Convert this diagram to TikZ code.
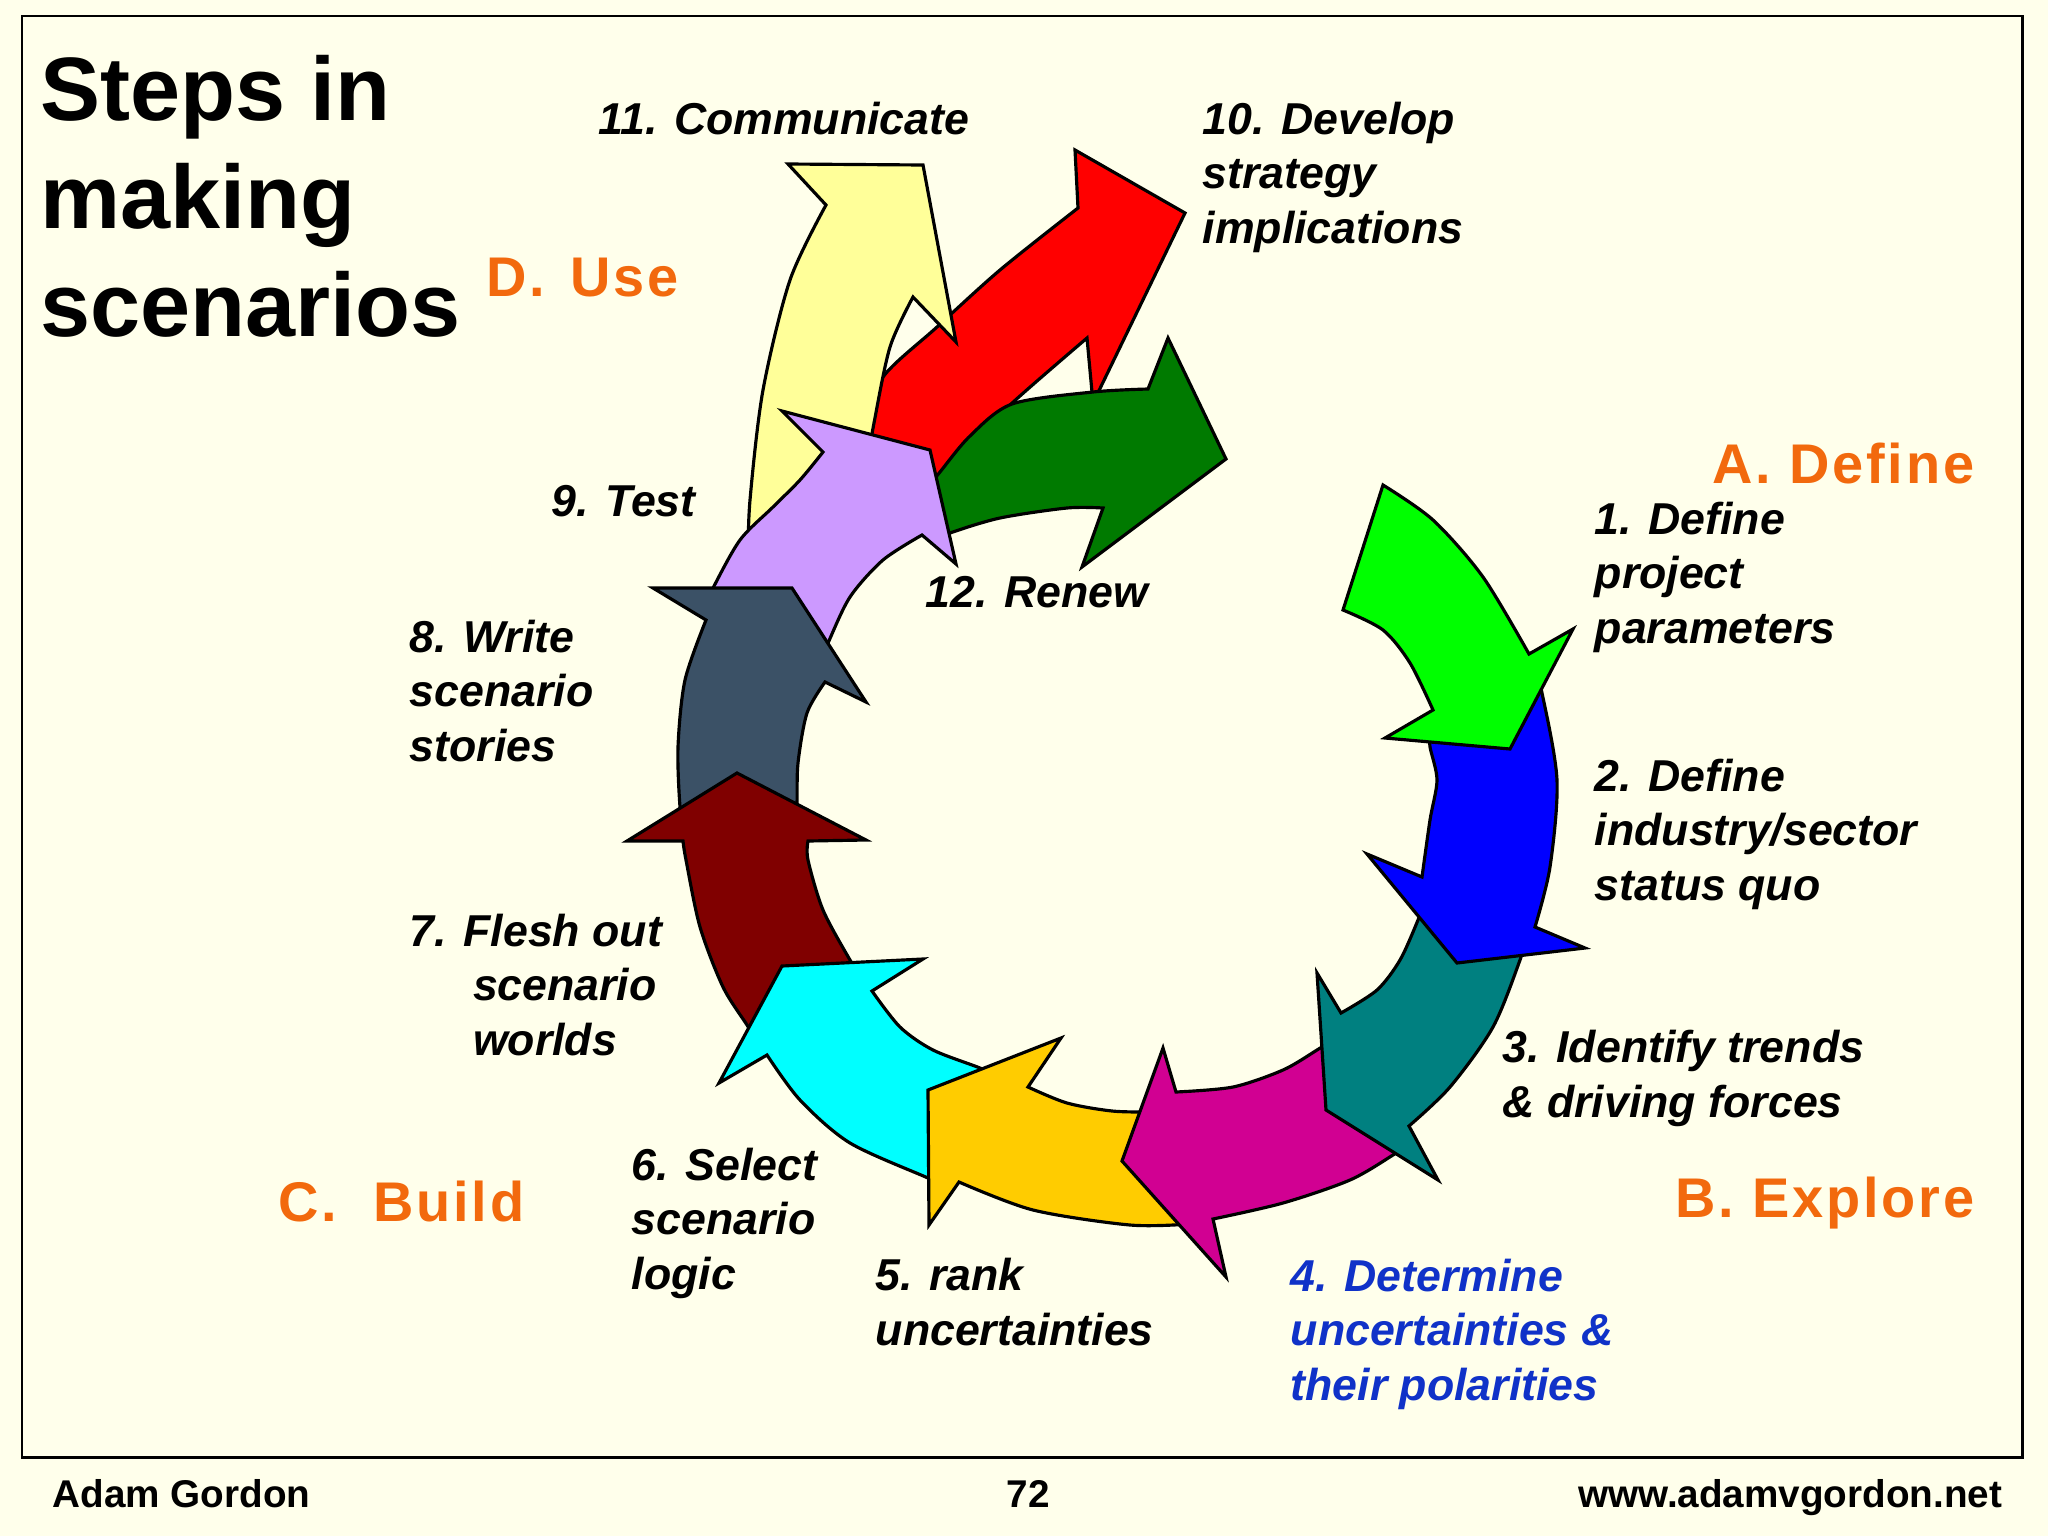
\documentclass[tikz,border=0pt]{standalone}
\usepackage{fontspec}
\setmainfont{Liberation Sans}
\newfontfamily\phasefont[LetterSpace=5]{Liberation Sans}
\usepackage{tikz}
\definecolor{bgcream}{HTML}{FFFFEB}
\definecolor{phaseorange}{HTML}{F2690D}
\definecolor{stepblue}{HTML}{1032C8}
\definecolor{greendefine}{HTML}{00FF00}
\definecolor{bluesector}{HTML}{0000FF}
\definecolor{tealtrend}{HTML}{008080}
\definecolor{magentadet}{HTML}{D10092}
\definecolor{orangerank}{HTML}{FFCC00}
\definecolor{cyanselect}{HTML}{00FFFF}
\definecolor{maroonflesh}{HTML}{800000}
\definecolor{slatewrite}{HTML}{3B5166}
\definecolor{purpletest}{HTML}{CC99FF}
\definecolor{redten}{HTML}{FF0000}
\definecolor{yellowcomm}{HTML}{FFFF99}
\definecolor{greenrenew}{HTML}{007A00}
\newcommand{\steplabelfont}{\fontsize{12.7}{15.4}\selectfont\bfseries\itshape}
\newcommand{\phaselabelfont}{\phasefont\fontsize{15.9}{19}\selectfont\bfseries}
\tikzset{
  arrowpart/.style={draw=black, line width=0.9pt, line join=miter},
  steplabel/.style={anchor=base west, inner sep=0pt, align=left, font=\steplabelfont},
  phaselabel/.style={inner sep=0pt, text=phaseorange, font=\phaselabelfont},
  footlabel/.style={anchor=base, inner sep=0pt, font=\fontsize{11}{13}\selectfont\bfseries}
}

\begin{document}
\begin{tikzpicture}[x=0.01cm, y=-0.01cm]
      % page
      \useasboundingbox (0,0) rectangle (2048,1536);
      \fill[bgcream] (0,0) rectangle (2048,1536);
      \draw[line width=0.85pt] (22,16) rectangle (2022,1457);
      % arrows 10, 12, 11
      \filldraw[arrowpart, fill=redten] (1078,208) -- (1075,150) -- (1185,213) -- (1093,403) -- (1087,338)
        -- plot[smooth] coordinates {(1087,338) (1010,405) (965,452) (938,505)}
        -- (860,470)
        -- plot[smooth] coordinates {(860,470) (868,425) (883,377) (937,327) (1000,270) (1078,208)}
        -- cycle;
      \filldraw[arrowpart, fill=greenrenew] (1148,389) -- (1168,338) -- (1226,459) -- (1082,567) -- (1103,508)
        -- plot[smooth] coordinates {(1103,508) (1067,508) (1000,518) (950,533) (932,542)}
        -- (922,495)
        -- plot[smooth] coordinates {(922,495) (940,472) (970,436) (1012,404) (1093,392) (1148,389)}
        -- cycle;
      \filldraw[arrowpart, fill=yellowcomm] (826,205) -- (788,164) -- (923,165) -- (956,342) -- (913,297)
        -- plot[smooth] coordinates {(913,297) (890,347) (874,423) (866,470)}
        -- (748,560)
        -- plot[smooth] coordinates {(748,560) (750,500) (763,390) (790,280) (826,205)}
        -- cycle;
      % arrows 9 to 1
      \filldraw[arrowpart, fill=purpletest] (823,452) -- (782,411) -- (930,450) -- (956,564) -- (922,535)
        -- plot[smooth] coordinates {(922,535) (883,560) (850,597) (828,643) (820,662)}
        -- (705,606)
        -- plot[smooth] coordinates {(705,606) (713,588) (740,540) (773,507) (800,480) (823,452)}
        -- cycle;
      \filldraw[arrowpart, fill=slatewrite] (706,620) -- (653,588) -- (792,588) -- (866,702) -- (825,682)
        -- plot[smooth] coordinates {(825,682) (807,713) (798,763) (797,803) (795,826)}
        -- (684,826)
        -- plot[smooth] coordinates {(684,826) (680,807) (678,747) (685,680) (706,620)}
        -- cycle;
      \filldraw[arrowpart, fill=maroonflesh] (737,773) -- (866,840) -- (808,841)
        -- plot[smooth] coordinates {(808,841) (808,860) (823,910) (850,960) (862,978)}
        -- (760,1046)
        -- plot[smooth] coordinates {(760,1046) (747,1025) (723,987) (700,927) (686,860) (683,841)}
        -- (627,841) -- cycle;
      \filldraw[arrowpart, fill=cyanselect] (782,966) -- (923,959) -- (872,991)
        -- plot[smooth] coordinates {(872,991) (900,1027) (933,1050) (980,1068) (992,1075)}
        -- (945,1186)
        -- plot[smooth] coordinates {(945,1186) (928,1178) (850,1143) (800,1100) (767,1055)}
        -- (719,1083) -- cycle;
      \filldraw[arrowpart, fill=orangerank] (928,1090) -- (1061,1038) -- (1028,1087)
        -- plot[smooth] coordinates {(1028,1087) (1067,1103) (1112,1111) (1150,1112)}
        -- (1190,1224)
        -- plot[smooth] coordinates {(1190,1224) (1130,1225) (1033,1210) (959,1182)}
        -- (929,1225) -- cycle;
      \filldraw[arrowpart, fill=magentadet] (1176,1092) -- (1163,1048) -- (1122,1161) -- (1226,1277) -- (1213,1219)
        -- plot[smooth] coordinates {(1213,1219) (1283,1203) (1350,1180) (1393,1155) (1410,1143)}
        -- (1340,1035)
        -- plot[smooth] coordinates {(1340,1035) (1317,1050) (1283,1070) (1233,1087) (1176,1092)}
        -- cycle;
      \filldraw[arrowpart, fill=tealtrend] (1341,1013) -- (1317,973) -- (1326,1110) -- (1438,1180) -- (1409,1126)
        -- plot[smooth] coordinates {(1409,1126) (1450,1087) (1493,1027) (1520,960) (1527,935)}
        -- (1425,900)
        -- plot[smooth] coordinates {(1425,900) (1418,920) (1400,960) (1377,990) (1341,1013)}
        -- cycle;
      \filldraw[arrowpart, fill=bluesector] (1422,877) -- (1367,854) -- (1457,963) -- (1585,948) -- (1535,927)
        -- plot[smooth] coordinates {(1535,927) (1550,867) (1557,780) (1542,693) (1532,660)}
        -- (1430,735)
        -- plot[smooth] coordinates {(1430,735) (1430,747) (1437,780) (1430,820) (1422,877)}
        -- cycle;
      \filldraw[arrowpart, fill=greendefine] (1383,485)
        -- plot[smooth] coordinates {(1383,485) (1433,520) (1483,577) (1529,654)}
        -- (1573,629) -- (1510,749) -- (1385,738) -- (1433,710)
        -- plot[smooth] coordinates {(1433,710) (1410,663) (1383,630) (1343,610)}
        -- cycle;
      % title and phases (multi-line nodes sit on their last baseline)
      \node[anchor=base west, inner sep=0pt, align=left, font=\fontsize{25.6}{30.7}\selectfont\bfseries]
        (title) at (40,336) {Steps in\\making\\scenarios};
      \node[phaselabel, anchor=base west] (phaseuse) at (486,296) {D.\hspace{2pt} Use};
      \node[phaselabel, anchor=base east] (phasedefine) at (1975,483) {A. Define};
      \node[phaselabel, anchor=base east] (phaseexplore) at (1975,1217) {B. Explore};
      \node[phaselabel, anchor=base west] (phasebuild) at (278,1221) {C.\hspace{5pt} Build};
      % steps
      \node[steplabel] (stepone) at (1594,643) {1. Define\\project\\parameters};
      \node[steplabel] (steptwo) at (1594,900) {2. Define\\industry/sector\\status quo};
      \node[steplabel] (stepthree) at (1502,1117) {3. Identify trends\\\& driving forces};
      \node[steplabel, text=stepblue] (stepfour) at (1290,1400) {4. Determine\\uncertainties \&\\their polarities};
      \node[steplabel] (stepfive) at (875,1345) {5. rank\\uncertainties};
      \node[steplabel] (stepsix) at (631,1289) {6. Select\\scenario\\logic};
      \node[steplabel] (stepseven) at (409,1055) {7. Flesh out\\\hspace*{18pt}scenario\\\hspace*{18pt}worlds};
      \node[steplabel] (stepeight) at (409,761) {8. Write\\scenario\\stories};
      \node[steplabel] (stepnine) at (551,516) {9. Test};
      \node[steplabel] (stepten) at (1202,243) {10. Develop\\strategy\\implications};
      \node[steplabel] (stepeleven) at (598,134) {11. Communicate};
      \node[steplabel] (steptwelve) at (925,607) {12. Renew};
      % footer
      \node[footlabel, anchor=base west] (author) at (52,1507) {Adam Gordon};
      \node[footlabel] (pagenum) at (1028,1507) {72};
      \node[footlabel, anchor=base east] (website) at (2003,1507) {www.adamvgordon.net};
\end{tikzpicture}
\end{document}
